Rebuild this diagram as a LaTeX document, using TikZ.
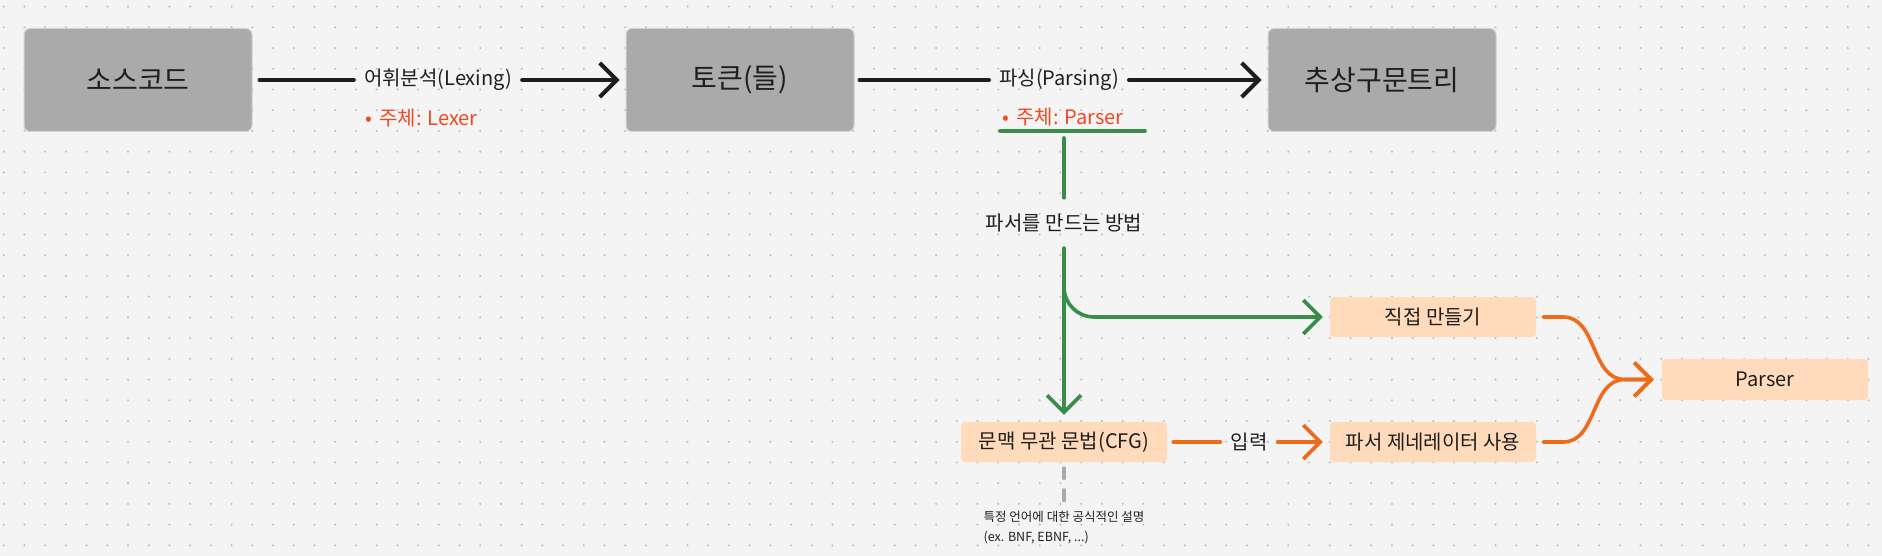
\documentclass[tikz,border=0pt]{standalone}
\usepackage{fontspec}
\setmainfont{Noto Sans CJK KR}
\usetikzlibrary{arrows.meta}
\definecolor{canvas}{HTML}{F4F4F4}
\definecolor{dotc}{HTML}{C2C2C2}
\definecolor{boxgray}{HTML}{AAAAAA}
\definecolor{boxedge}{HTML}{D4D4D4}
\definecolor{peach}{HTML}{FFDBBC}
\definecolor{ink}{HTML}{1E1E1E}
\definecolor{subred}{HTML}{F24822}
\definecolor{grn}{HTML}{388E48}
\definecolor{orng}{HTML}{EF6B1C}
\newcommand{\txtbig}{\fontsize{28}{33}\selectfont}
\newcommand{\txtmid}{\fontsize{20}{24}\selectfont}
\newcommand{\txtsmall}{\fontsize{12.5}{20}\selectfont}
\begin{document}
\begin{tikzpicture}[x=1pt,y=-1pt,>={Straight Barb[length=17pt,width=34pt]},
    every node/.style={text=ink},
    gbox/.style={fill=boxgray,draw=boxedge,line width=1pt,rounded corners=6pt,minimum width=228pt,minimum height=103pt,font=\txtbig},
    pbox/.style={fill=peach,rounded corners=4pt,minimum width=206pt,minimum height=40pt,font=\txtmid},
    lbl/.style={font=\txtmid,inner xsep=10pt},
    subj/.style={anchor=west,text=subred,font=\txtmid},
    blk/.style={draw=ink,line width=4pt,line cap=round},
    gline/.style={draw=grn,line width=3.6pt,line cap=round},
    oline/.style={draw=orng,line width=3.6pt,line cap=round},
    dsh/.style={draw=boxgray,line width=4pt,line cap=round,dash pattern=on 10pt off 12pt}]
  % canvas
  \fill[canvas] (0,0) rectangle (1882,556);
  \useasboundingbox (0,0) rectangle (1882,556);
  \foreach \i in {0,...,90}
    \foreach \j in {0,...,26}
      \fill[dotc] (3.7+20.72*\i,6.6+20.72*\j) circle (1.2pt);
  % pipeline
  \node[gbox] (src) at (138,80) {소스코드};
  \node[gbox] (tok) at (740,80) {토큰(들)};
  \node[gbox] (ast) at (1382,80) {추상구문트리};
  \node[lbl] (lex) at (438,80) {어휘분석(Lexing)};
  \node[lbl] (prs) at (1059,80) {파싱(Parsing)};
  \node[subj] (lexr) at (362,118) {•\hspace{7pt}주체: Lexer};
  \node[subj] (prsr) at (999,117) {•\hspace{7pt}주체: Parser};
  \draw[blk,shorten <=7pt] (src) -- (lex);
  \draw[blk,->,shorten >=6pt] (lex) -- (tok);
  \draw[blk,shorten <=5pt] (tok) -- (prs);
  \draw[blk,->,shorten >=6pt] (prs) -- (ast);
  % parser methods
  \coordinate (ula) at (1000,131);
  \coordinate (ulb) at (1145,131);
  \coordinate (ulm) at (1064,131);
  \draw[gline] (ula) -- (ulb);
  \node[font=\txtmid,inner sep=0pt,minimum height=50pt] (how) at (1064,223) {파서를 만드는 방법};
  \draw[gline,shorten <=7pt] (ulm) -- (how);
  \node[pbox] (cfg) at (1064,442) {문맥 무관 문법(CFG)};
  \node[pbox] (mk) at (1433,317) {직접 만들기};
  \node[pbox] (gen) at (1433,442) {파서 제네레이터 사용};
  \node[pbox,minimum height=41pt] (psr) at (1765,379.5) {Parser};
  \draw[gline,->,shorten >=7pt] (how) -- (cfg);
  \draw[gline,->,shorten >=7pt,rounded corners=30pt] (how.south) |- (mk);
  \node[lbl] (inp) at (1249,442) {입력};
  \draw[oline,shorten <=6pt] (cfg) -- (inp);
  \draw[oline,->,shorten >=7pt] (inp) -- (gen);
  \draw[oline,->,shorten <=7pt,shorten >=8pt] (mk.east) -- +(27,0) to[out=0,in=180] ([xshift=-37pt]psr.west) -- (psr.west);
  \draw[oline,->,shorten <=7pt,shorten >=8pt] (gen.east) -- +(27,0) to[out=0,in=180] ([xshift=-37pt]psr.west) -- (psr.west);
  % note
  \node[font=\txtsmall,align=left,inner sep=0pt,anchor=north] (desc) at (1064,511) {특정 언어에 대한 공식적인 설명\\(ex. BNF, EBNF, ...)};
  \draw[dsh,shorten <=6pt,shorten >=9pt] (cfg) -- (desc);
\end{tikzpicture}
\end{document}
